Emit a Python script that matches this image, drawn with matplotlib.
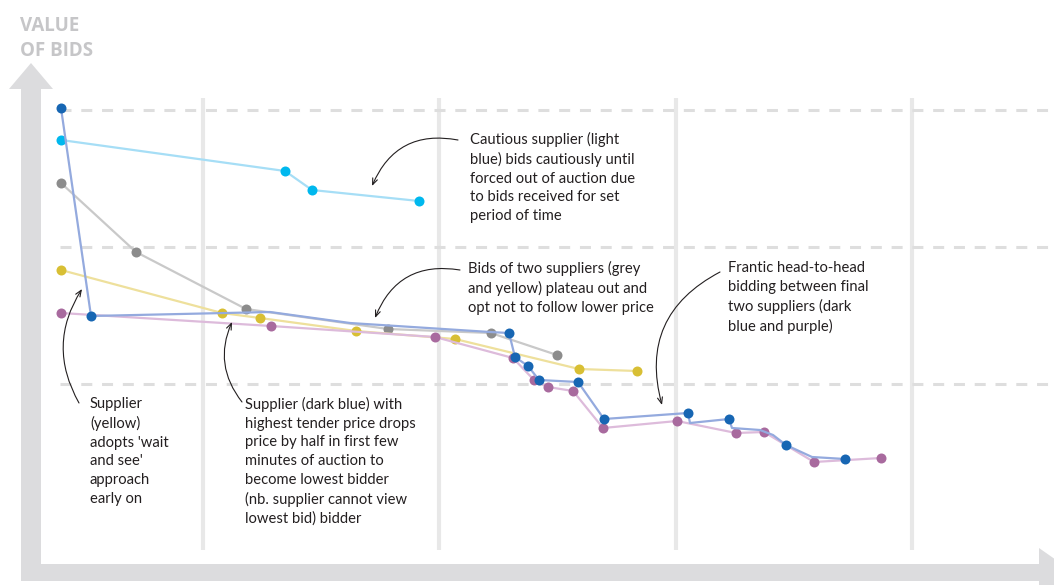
import matplotlib.pyplot as plt
from matplotlib.patches import Polygon

# bid values (x = auction time, y = bid value, arbitrary units)
dark_blue_x = [61, 91, 270, 350, 490, 509, 515, 528, 539, 578, 604, 688, 690, 729, 732, 760, 773, 786, 812, 845]
dark_blue_y = [477, 269, 273, 262, 253, 252, 228, 219, 205, 203, 166, 172, 162, 166, 157, 155, 150, 140, 128, 126]
dark_blue_mark = [1, 1, 0, 0, 0, 1, 1, 1, 1, 1, 1, 1, 0, 1, 0, 0, 0, 1, 0, 1]

purple_x = [61, 271, 435, 513, 534, 548, 573, 603, 677, 736, 764, 814, 881]
purple_y = [272, 259, 248, 227, 205, 198, 194, 157, 164, 152, 153, 123, 127]

grey_x = [61, 136, 246, 388, 491, 557]
grey_y = [402, 333, 276, 256, 252, 230]

yellow_x = [61, 222, 260, 356, 455, 579, 637]
yellow_y = [315, 272, 267, 254, 246, 216, 214]

light_blue_x = [61, 285, 312, 419]
light_blue_y = [445, 414, 395, 384]

grid_x = [203, 439, 676, 912]
grid_y = [475, 338, 201]

notes = [
    ("Cautious supplier (light\nblue) bids cautiously until\nforced out of auction due\nto bids received for set\nperiod of time",
     (470, 453), (458, 445), (372, 399), 0.4),
    ("Bids of two suppliers (grey\nand yellow) plateau out and\nopt not to follow lower price",
     (468, 324), (460, 315), (375, 267), 0.4),
    ("Frantic head-to-head\nbidding between final\ntwo suppliers (dark\nblue and purple)",
     (728, 324), (720, 313), (662, 180), 0.4),
    ("Supplier\n(yellow)\nadopts 'wait\nand see'\napproach\nearly on",
     (90, 188), (79, 182), (82, 296), -0.3),
    ("Supplier (dark blue) with\nhighest tender price drops\nprice by half in first few\nminutes of auction to\nbecome lowest bidder\n(nb. supplier cannot view\nlowest bid) bidder",
     (245, 188), (242, 183), (232, 263), -0.3),
]

fig = plt.figure(figsize=(10.54, 5.85), dpi=100)
ax = fig.add_axes([0, 0, 1, 1])
ax.set_xlim(0, 1054)
ax.set_ylim(0, 585)
ax.axis('off')

axis_col = '#dcdcde'
# vertical axis arrow
ax.add_patch(Polygon([(21, 4), (41, 4), (41, 496), (53, 496), (31, 522), (9, 496), (21, 496)],
                     closed=True, color=axis_col, lw=0))
# horizontal axis arrow
ax.add_patch(Polygon([(21, 4), (1039, 4), (1039, -12), (1074, 12.5), (1039, 37), (1039, 21), (21, 21)],
                     closed=True, color=axis_col, lw=0))

ax.text(20, 569, "VALUE\nOF BIDS", fontsize=13.5, fontweight='bold', color='#c6c6c8',
        family='Open Sans', va='top', ha='left', linespacing=1.3)

for gx in grid_x:
    ax.plot([gx, gx], [35, 487], color='#e8e8e8', lw=3, zorder=1, solid_capstyle='butt')
for gy in grid_y:
    ax.plot([60, 1054], [gy, gy], color='#dedede', lw=2.2, dashes=(3.6, 3.2), zorder=1)

series = [
    (grey_x, grey_y, None, '#c9c9c9', '#8c8c8c'),
    (yellow_x, yellow_y, None, '#eee09c', '#d8bf34'),
    (light_blue_x, light_blue_y, None, '#a6def6', '#00b8ee'),
    (purple_x, purple_y, None, '#ddbbdb', '#a86a9e'),
    (dark_blue_x, dark_blue_y, dark_blue_mark, '#94aade', '#1766b3'),
]
for i, (xs, ys, mark, lc, mc) in enumerate(series):
    ax.plot(xs, ys, color=lc, lw=1.6, zorder=2 + i)
    if mark is None:
        mx, my = xs, ys
    else:
        mx = [x for x, m in zip(xs, mark) if m]
        my = [y for y, m in zip(ys, mark) if m]
    ax.plot(mx, my, 'o', color=mc, ms=7.2, mew=0, zorder=2 + i)

for txt, tpos, start, end, rad in notes:
    ax.text(tpos[0], tpos[1], txt, fontsize=10.6, family='Lato', color='#231f20',
            va='top', ha='left', linespacing=1.42, zorder=10)
    ax.annotate("", xy=end, xytext=start,
                arrowprops=dict(arrowstyle='->,head_length=0.45,head_width=0.18', color='#231f20',
                                lw=0.8, connectionstyle='arc3,rad=%s' % rad,
                                shrinkA=0, shrinkB=0), zorder=10)

fig.savefig('out.png', dpi=100)
